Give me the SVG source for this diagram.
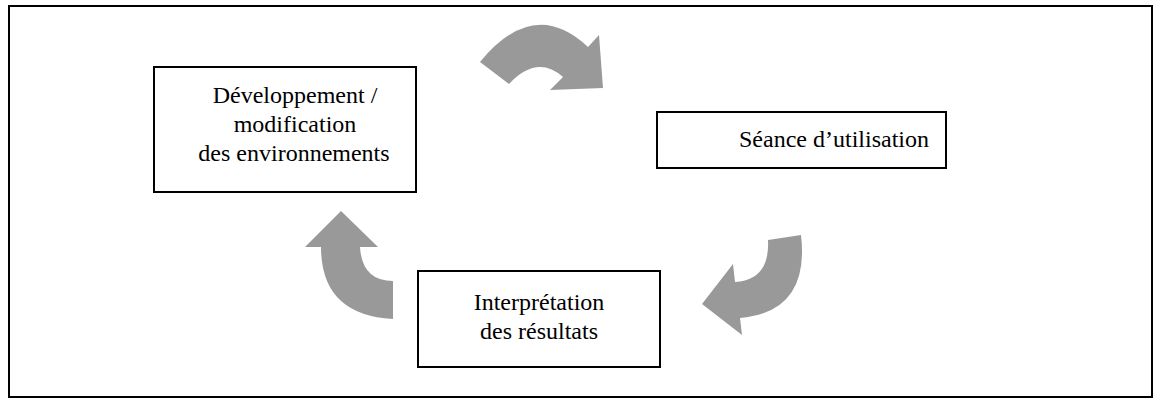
<svg xmlns="http://www.w3.org/2000/svg" width="1162" height="413" viewBox="0 0 1162 413">
<style>
.box{fill:#fff;stroke:#000;stroke-width:2}
.lbl{font-family:'Liberation Serif','Tinos','Times New Roman','DejaVu Serif',serif;font-size:24px;fill:#000;text-anchor:middle}
.arr{fill:#999999;stroke:none}
</style>
<rect x="0" y="0" width="1162" height="413" fill="#fff"/>
<rect x="9" y="6" width="1143" height="391" fill="none" stroke="#000" stroke-width="2"/>
<g id="connectors">
<path class="arr" d="M 480 62 Q 534 -4 588 47 L 599 35 L 603 88 L 550 90 L 563 77 Q 537 54 509 84 Z"/>
<path class="arr" d="M 801 235 Q 810 312 740 318 L 742 335 L 702 304 L 733 264 L 735 282 Q 770 280 768 240 Z"/>
<path class="arr" d="M 341 211 L 378 247 L 360 247 Q 362 281 393 281 L 393 319 Q 321 315 321 247 L 305 247 Z"/>
</g>
<g id="node-dev">
<rect class="box" x="154" y="67" width="262" height="125"/>
<text class="lbl" x="295" y="103">Développement /</text>
<text class="lbl" x="295" y="132">modification</text>
<text class="lbl" x="294" y="161">des environnements</text>
</g>
<g id="node-seance">
<rect class="box" x="657" y="112" width="289" height="56"/>
<text class="lbl" x="834" y="147">Séance d’utilisation</text>
</g>
<g id="node-interp">
<rect class="box" x="418" y="271" width="242" height="96"/>
<text class="lbl" x="539" y="310">Interprétation</text>
<text class="lbl" x="539" y="339">des résultats</text>
</g>
</svg>
